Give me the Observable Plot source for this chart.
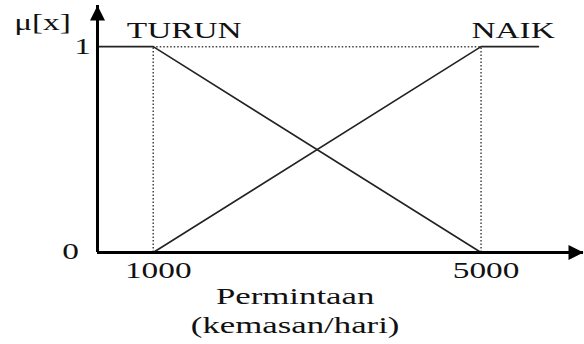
<!DOCTYPE html>
<html>
<head>
<meta charset="utf-8">
<script src="https://cdn.jsdelivr.net/npm/d3@7"></script>
<script src="https://cdn.jsdelivr.net/npm/@observablehq/plot@0.6"></script>
<style>
  html, body { margin: 0; padding: 0; background: #fff; }
  #chart svg { display: block; }
</style>
</head>
<body>
<div id="chart"></div>
<script>
// ---- data ----
const xTicks = [1000, 5000];
const yTicks = [0, 1];
const turunX = [320, 1000, 5000];
const turunY = [1, 1, 0];
const naikX = [1000, 5000, 5700];
const naikY = [0, 1, 1];
const seriesNames = ["TURUN", "NAIK"];
const yLabel = "μ[x]";
const xTitle = ["Permintaan", "(kemasan/hari)"];
const xDomain = [320, 6250];
const yDomain = [0, 1.2];

const turun = turunX.map((x, i) => ({x, y: turunY[i]}));
const naik = naikX.map((x, i) => ({x, y: naikY[i]}));
const [x0, x1] = xDomain;
const [y0, y1] = yDomain;
const xMid = d3.mean(xTicks);

const font = "'Liberation Serif', 'Times New Roman', serif";

const plot = Plot.plot({
  width: 584,
  height: 344,
  marginLeft: 97,
  marginRight: 1,
  marginTop: 5,
  marginBottom: 92,
  x: {domain: xDomain, axis: null},
  y: {domain: yDomain, axis: null},
  style: {fontFamily: font, background: "#fff", overflow: "visible"},
  marks: [
    // guide dotted lines
    Plot.ruleY([1], {x1: xTicks[0], x2: xTicks[1], stroke: "#444", strokeWidth: 1.5, strokeDasharray: "1.5,2"}),
    Plot.ruleX(xTicks, {y1: 0, y2: 1, stroke: "#444", strokeWidth: 1.5, strokeDasharray: "1.5,2"}),
    // membership lines
    Plot.line(turun, {x: "x", y: "y", stroke: "#222", strokeWidth: 1.6}),
    Plot.line(naik, {x: "x", y: "y", stroke: "#222", strokeWidth: 1.6}),
    // axes
    Plot.ruleY([0], {x1: x0, x2: x1, stroke: "#000", strokeWidth: 3}),
    Plot.ruleX([x0], {y1: 0, y2: y1, stroke: "#000", strokeWidth: 3}),
    Plot.vector([{x: x1, y: 0}], {x: "x", y: "y", shape: "spike", anchor: "end", length: 15, r: 7.5, rotate: 90, fill: "#000", stroke: null}),
    Plot.vector([{x: x0, y: y1}], {x: "x", y: "y", shape: "spike", anchor: "end", length: 15, r: 7.5, rotate: 0, fill: "#000", stroke: null}),
    // tick labels
    Plot.text(xTicks, {x: d => d, y: 0, text: d => String(d), dx: 5, dy: 18, fontSize: 23, fill: "#111"}),
    Plot.text([yTicks[0]], {x: x0, y: d => d, text: d => String(d), dx: -27, dy: -1, fontSize: 23, fill: "#111"}),
    Plot.text([yTicks[1]], {x: x0, y: d => d, text: d => String(d), dx: -15, dy: 0, fontSize: 23, fill: "#111"}),
    // series labels
    Plot.text([seriesNames[0]], {x: xTicks[0], y: 1, text: d => d, dx: 31, dy: -16.5, fontSize: 23, fill: "#111"}),
    Plot.text([seriesNames[1]], {x: xTicks[1], y: 1, text: d => d, dx: 32, dy: -16.5, fontSize: 23, fill: "#111"}),
    // y label
    Plot.text([yLabel], {x: x0, y: y1, text: d => d, dx: -55, dy: 17, fontSize: 23, fill: "#111"}),
    // x title
    Plot.text([xTitle[0]], {x: xMid, y: 0, text: d => d, dx: -22, dy: 44, fontSize: 24, fill: "#111"}),
    Plot.text([xTitle[1]], {x: xMid, y: 0, text: d => d, dx: -22, dy: 73, fontSize: 24, fill: "#111"})
  ]
});

// horizontal stretch of glyphs, as in the reference
plot.querySelectorAll("text").forEach(t => {
  const tr = t.getAttribute("transform") || "";
  t.setAttribute("transform", tr + " scale(1.45,1)");
});

document.getElementById("chart").appendChild(plot);
</script>
</body>
</html>
